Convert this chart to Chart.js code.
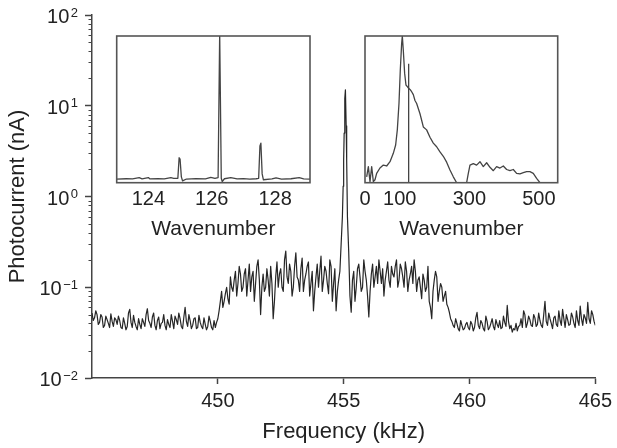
<!DOCTYPE html>
<html>
<head>
<meta charset="utf-8">
<script src="https://cdn.jsdelivr.net/npm/chart.js@4.4.0/dist/chart.umd.min.js"></script>
<style>
  body { margin: 0; background: #fff; }
  #wrap { position: relative; width: 617px; height: 448px; }
  canvas { position: absolute; }
</style>
</head>
<body>
<div id="wrap">
  <canvas id="mainChart" width="617" height="448" style="left:0;top:0"></canvas>
  <canvas id="insetA" width="230" height="220" style="left:100px;top:28px"></canvas>
  <canvas id="insetB" width="240" height="220" style="left:350px;top:28px"></canvas>
</div>
<script>
// main trace: photocurrent (nA) sampled every 0.1 kHz from 445 kHz
const freqStart = 445;
const freqStep = 0.1;
const photocurrent = [
  0.052, 0.046, 0.05, 0.041, 0.047, 0.038, 0.044, 0.036, 0.042, 0.046,
  0.039, 0.043, 0.035, 0.04, 0.037, 0.057, 0.036, 0.041, 0.034, 0.039,
  0.045, 0.037, 0.058, 0.04, 0.047, 0.038, 0.043, 0.035, 0.041, 0.038,
  0.044, 0.036, 0.042, 0.048, 0.039, 0.045, 0.035, 0.06, 0.037, 0.043,
  0.038, 0.046, 0.036, 0.041, 0.035, 0.039, 0.037, 0.042, 0.034, 0.036,
  0.045, 0.07, 0.06, 0.085, 0.075, 0.13, 0.09, 0.15, 0.11, 0.14,
  0.1, 0.16, 0.12, 0.09, 0.15, 0.11, 0.2, 0.05, 0.14, 0.1,
  0.12, 0.17, 0.045, 0.13, 0.1, 0.16, 0.09, 0.25, 0.11, 0.15,
  0.1, 0.24, 0.12, 0.16, 0.09, 0.14, 0.19, 0.11, 0.055, 0.13,
  0.1, 0.22, 0.12, 0.15, 0.085, 0.17, 0.11, 0.055, 0.12, 0.3,
  2.5, 6.0, 0.25, 0.053, 0.15, 0.1, 0.18, 0.09, 0.2, 0.12,
  0.047, 0.14, 0.1, 0.17, 0.2, 0.11, 0.08, 0.15, 0.12, 0.17,
  0.13, 0.2, 0.12, 0.16, 0.1, 0.15, 0.12, 0.17, 0.2, 0.09,
  0.13, 0.075, 0.12, 0.1, 0.07, 0.045, 0.12, 0.13, 0.09, 0.1,
  0.08, 0.065, 0.053, 0.042, 0.036, 0.04, 0.033, 0.038, 0.035, 0.041,
  0.034, 0.039, 0.036, 0.053, 0.035, 0.04, 0.033, 0.042, 0.036, 0.045,
  0.034, 0.039, 0.043, 0.036, 0.041, 0.063, 0.035, 0.032, 0.034, 0.033,
  0.038, 0.036, 0.05, 0.04, 0.044, 0.037, 0.046, 0.039, 0.043, 0.036,
  0.07, 0.038, 0.045, 0.035, 0.048, 0.037, 0.043, 0.057, 0.036, 0.044,
  0.039, 0.047, 0.036, 0.043, 0.062, 0.038, 0.046, 0.068, 0.04, 0.05,
  0.038
];
// the in-between samples, 445.05 kHz onwards, same 0.1 kHz spacing
const photocurrentHalf = [
  0.043, 0.055, 0.039, 0.05, 0.036, 0.048, 0.04, 0.051, 0.037, 0.044,
  0.048, 0.036, 0.046, 0.034, 0.052, 0.041, 0.049, 0.037, 0.045, 0.035,
  0.041, 0.05, 0.043, 0.036, 0.052, 0.034, 0.047, 0.04, 0.05, 0.034,
  0.039, 0.05, 0.035, 0.044, 0.052, 0.037, 0.047, 0.042, 0.05, 0.035,
  0.045, 0.035, 0.049, 0.037, 0.046, 0.034, 0.048, 0.036, 0.043, 0.041,
  0.055, 0.09, 0.07, 0.1, 0.065, 0.1, 0.12, 0.08, 0.17, 0.09,
  0.14, 0.08, 0.18, 0.13, 0.07, 0.17, 0.12, 0.1, 0.09, 0.16,
  0.08, 0.11, 0.07, 0.19, 0.14, 0.1, 0.2, 0.13, 0.18, 0.08,
  0.17, 0.13, 0.09, 0.21, 0.12, 0.17, 0.08, 0.15, 0.09, 0.18,
  0.15, 0.09, 0.17, 0.11, 0.2, 0.07, 0.16, 0.09, 0.15, 0.6,
  12, 0.6, 0.08, 0.12, 0.07, 0.16, 0.13, 0.1, 0.15, 0.08,
  0.09, 0.18, 0.13, 0.11, 0.15, 0.16, 0.12, 0.19, 0.1, 0.14,
  0.17, 0.1, 0.18, 0.13, 0.19, 0.09, 0.14, 0.11, 0.15, 0.12,
  0.1, 0.14, 0.09, 0.17, 0.06, 0.09, 0.15, 0.07, 0.11, 0.07,
  0.09, 0.06, 0.045, 0.038, 0.045, 0.035, 0.043, 0.034, 0.039, 0.036,
  0.042, 0.033, 0.046, 0.038, 0.043, 0.035, 0.048, 0.034, 0.04, 0.037,
  0.044, 0.036, 0.035, 0.048, 0.037, 0.042, 0.038, 0.035, 0.04, 0.037,
  0.045, 0.055, 0.036, 0.048, 0.038, 0.05, 0.037, 0.052, 0.038, 0.05,
  0.042, 0.052, 0.04, 0.046, 0.039, 0.055, 0.038, 0.045, 0.05, 0.038,
  0.052, 0.04, 0.055, 0.038, 0.045, 0.05, 0.04, 0.045, 0.055, 0.042
];
// extra samples across the narrow resonance near 455 kHz
const peakFreq = [454.98, 455.02, 455.04, 455.07, 455.12];
const peakCurrent = [1.3, 5, 10, 15, 2.5];

const freqTicks = [450, 455, 460, 465];
const yTickValues = [0.01, 0.1, 1, 10, 100];
const yTickExponents = ['\u22122', '\u22121', '0', '1', '2'];

// left inset
const waveA = [123.0, 123.3, 123.5, 123.71, 123.8, 124.0, 124.05, 124.3, 124.5, 124.71, 124.8,
  124.93, 124.97, 125.0, 125.04, 125.08, 125.2, 125.5, 125.8, 125.97, 126.1, 126.2, 126.25,
  126.3, 126.33, 126.4, 126.6, 126.8, 127.0, 127.2, 127.4, 127.48, 127.52, 127.55, 127.59,
  127.63, 127.9, 128.03, 128.2, 128.5, 128.76, 128.9, 129.1];
const signalA = [0.025, 0.027, 0.026, 0.034, 0.026, 0.035, 0.026, 0.027, 0.026, 0.034, 0.03,
  0.03, 0.17, 0.16, 0.04, 0.012, 0.025, 0.028, 0.026, 0.036, 0.03, 0.035, 1.02,
  0.03, 0.008, 0.027, 0.034, 0.026, 0.028, 0.025, 0.027, 0.03, 0.25, 0.27, 0.06,
  0.02, 0.026, 0.033, 0.025, 0.027, 0.034, 0.026, 0.025];
const ticksA = [124, 126, 128];

// right inset
const waveB = [4.8, 9.6, 14.4, 19.2, 24, 28.7, 33.5, 43, 52.7, 62.3, 71.9, 81.4, 88.1, 92.9,
  97.7, 101.5, 105.4, 107.3, 110.2, 114, 117.8, 121.7, 125.5, 129.3, 134.1, 138.9, 143.7,
  148.5, 158.1, 167.7, 177.2, 186.8, 196.4, 206, 215.6, 225.1, 234.7, 244.3, 253.9, 263.5,
  292.2, 297, 301.8, 311.4, 320.9, 330.5, 340.1, 349.7, 359.3, 368.9, 378.4, 388, 397.6,
  407.2, 416.7, 426.3, 435.9, 445.5, 455.1, 464.6, 474.2, 483.8, 493.4, 503];
const signalB = [0.04, 0.11, 0.007, 0.11, 0.007, 0.02, 0.064, 0.1, 0.12, 0.114, 0.143, 0.2,
  0.257, 0.36, 0.54, 0.77, 0.95, 1.0, 0.9, 0.745, 0.666, 0.655, 0.643, 0.636, 0.62, 0.6,
  0.56, 0.54, 0.47, 0.38, 0.36, 0.31, 0.27, 0.245, 0.21, 0.18, 0.14, 0.086, 0.04, 0,
  0, 0.064, 0.12, 0.13, 0.12, 0.143, 0.11, 0.136, 0.105, 0.082, 0.11, 0.1, 0.114,
  0.09, 0.082, 0.09, 0.064, 0.06, 0.068, 0.075, 0.075, 0.064, 0.03, 0];
const markerWave = 125.5;
const markerTop = 0.81;
const ticksB = [0, 100, 300, 500];

const FONT = '"Liberation Sans", Arial, Helvetica, sans-serif';
Chart.defaults.font.family = FONT;
Chart.defaults.color = '#222';

const mainPoints = photocurrent
  .map((v, i) => ({ x: +(freqStart + i * freqStep).toFixed(2), y: v }))
  .concat(photocurrentHalf.map((v, i) => ({ x: +(freqStart + freqStep / 2 + i * freqStep).toFixed(2), y: v })))
  .concat(peakFreq.map((f, i) => ({ x: f, y: peakCurrent[i] })))
  .sort((a, b) => a.x - b.x);

const logAxisPlugin = {
  id: 'logAxis',
  afterDraw(chart) {
    const y = chart.scales.y;
    const ctx = chart.ctx;
    const left = chart.chartArea.left;
    ctx.save();
    ctx.strokeStyle = '#444';
    ctx.lineWidth = 1;
    for (let e = -2; e < 2; e++) {
      for (let k = 2; k <= 9; k++) {
        const py = Math.round(y.getPixelForValue(k * Math.pow(10, e))) + 0.5;
        ctx.beginPath();
        ctx.moveTo(left - 3.5, py);
        ctx.lineTo(left, py);
        ctx.stroke();
      }
    }
    ctx.fillStyle = '#222';
    ctx.textAlign = 'right';
    ctx.textBaseline = 'alphabetic';
    yTickValues.forEach((v, i) => {
      const py = y.getPixelForValue(v);
      ctx.font = '13px ' + FONT;
      const w = ctx.measureText(yTickExponents[i]).width;
      ctx.fillText(yTickExponents[i], 78, py + 1.5);
      ctx.font = '20px ' + FONT;
      ctx.fillText('10', 78 - w - 1.5, py + 8);
    });
    ctx.restore();
  }
};

new Chart(document.getElementById('mainChart'), {
  type: 'line',
  data: {
    datasets: [{
      data: mainPoints,
      borderColor: '#262626',
      borderWidth: 1.2,
      borderJoinStyle: 'round',
      pointRadius: 0,
      tension: 0
    }]
  },
  options: {
    responsive: false,
    animation: false,
    layout: { padding: { top: 15, right: 19, left: 0, bottom: 0 } },
    plugins: { legend: { display: false }, tooltip: { enabled: false } },
    scales: {
      x: {
        type: 'linear',
        min: 445,
        max: 465,
        afterBuildTicks: (scale) => { scale.ticks = freqTicks.map(v => ({ value: v })); },
        afterFit: (scale) => { scale.height = 70; },
        grid: { drawOnChartArea: false, drawTicks: true, tickLength: 6, tickColor: '#444', tickWidth: 1.5 },
        border: { color: '#444', width: 1.5 },
        ticks: { font: { size: 20 }, color: '#222', padding: 5, maxRotation: 0 },
        title: { display: true, text: 'Frequency (kHz)', font: { size: 22 }, color: '#222', padding: { top: 0, bottom: 3 } }
      },
      y: {
        type: 'logarithmic',
        min: 0.01,
        max: 100,
        afterBuildTicks: (scale) => { scale.ticks = yTickValues.map(v => ({ value: v, major: true })); },
        afterFit: (scale) => { scale.width = 92; },
        grid: { drawOnChartArea: false, drawTicks: true, tickLength: 7, tickColor: '#444', tickWidth: 1.5 },
        border: { color: '#444', width: 1.5 },
        ticks: { callback: () => '', padding: 0 },
        title: { display: true, text: 'Photocurrent (nA)', font: { size: 22 }, color: '#222', padding: { top: 5, bottom: 0 } }
      }
    }
  },
  plugins: [logAxisPlugin]
});

const frameBox = {
  id: 'frameBox',
  afterDraw(chart) {
    const a = chart.chartArea;
    const ctx = chart.ctx;
    ctx.save();
    ctx.strokeStyle = '#555';
    ctx.lineWidth = 1.6;
    ctx.strokeRect(a.left, a.top, a.right - a.left, a.bottom - a.top);
    ctx.restore();
  }
};

function insetChart(id, datasets, xMin, xMax, tickVals, pad) {
  return new Chart(document.getElementById(id), {
    type: 'line',
    data: { datasets: datasets },
    options: {
      responsive: false,
      animation: false,
      layout: { padding: pad },
      plugins: { legend: { display: false }, tooltip: { enabled: false } },
      scales: {
        x: {
          type: 'linear',
          min: xMin,
          max: xMax,
          afterBuildTicks: (scale) => { scale.ticks = tickVals.map(v => ({ value: v })); },
          afterFit: (scale) => { scale.height = 65.3; },
          grid: { display: false, drawTicks: false },
          border: { display: false },
          ticks: { font: { size: 20 }, color: '#222', padding: 5, maxRotation: 0 },
          title: { display: true, text: 'Wavenumber', font: { size: 21 }, color: '#222', padding: { top: 0, bottom: 6 } }
        },
        y: { display: false, min: 0, max: 1 }
      }
    },
    plugins: [frameBox]
  });
}

const insetLine = { borderColor: '#444', borderWidth: 1.3, borderJoinStyle: 'round', pointRadius: 0, tension: 0 };

insetChart('insetA', [
  Object.assign({ data: waveA.map((w, i) => ({ x: w, y: signalA[i] })) }, insetLine)
], 123.0, 129.1, ticksA, { left: 16.7, top: 8, right: 20, bottom: 0 });

insetChart('insetB', [
  Object.assign({ data: waveB.map((w, i) => ({ x: w, y: signalB[i] })) }, insetLine),
  Object.assign({ data: [{ x: markerWave, y: 0 }, { x: markerWave, y: markerTop }] }, insetLine)
], 0, 554, ticksB, { left: 15, top: 8, right: 32.3, bottom: 0 });
</script>
</body>
</html>
